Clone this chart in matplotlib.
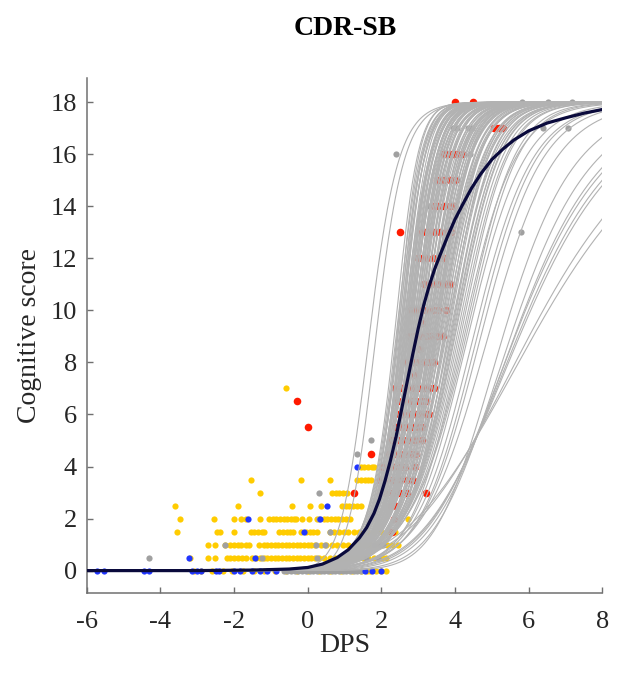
import numpy as np
import matplotlib
matplotlib.use('Agg')
import matplotlib.pyplot as plt

plt.rcParams['font.family'] = ['Liberation Serif', 'DejaVu Serif']
plt.rcParams['axes.unicode_minus'] = False

# ---- scatter data (DPS, score) ----------------------------------------------
yellow_pts = [
    # score 0
    (-3.1, 0), (-2.9, 0), (-2.6, 0), (-2.3, 0), (-2.05, 0), (-1.75, 0), (-1.45, 0),
    (-1.2, 0), (-0.9, 0), (-0.6, 0), (-0.3, 0), (0.0, 0), (0.3, 0), (0.6, 0),
    (0.9, 0), (1.2, 0), (1.45, 0), (1.6, 0), (1.7, 0), (1.85, 0), (2.0, 0), (2.13, 0),
    # score 0.5
    (-3.19, .5), (-2.71, .5), (-2.51, .5), (-2.2, .5), (-2.1, .5), (-2.0, .5), (-1.9, .5),
    (-1.78, .5), (-1.68, .5), (-1.5, .5), (-1.4, .5), (-1.3, .5), (-1.2, .5), (-1.1, .5),
    (-1.0, .5), (-0.9, .5), (-0.8, .5), (-0.7, .5), (-0.6, .5), (-0.5, .5), (-0.4, .5),
    (-0.3, .5), (-0.2, .5), (-0.1, .5), (0.0, .5), (0.1, .5), (0.2, .5), (0.3, .5),
    (0.45, .5), (0.6, .5), (0.75, .5), (0.9, .5), (1.05, .5), (1.2, .5), (1.35, .5),
    (1.5, .5), (1.65, .5), (1.8, .5), (1.95, .5), (2.05, .5), (2.13, .5),
    # score 1
    (-2.71, 1), (-2.51, 1), (-2.24, 1), (-2.1, 1), (-2.0, 1), (-1.9, 1), (-1.8, 1),
    (-1.68, 1), (-1.59, 1), (-1.32, 1), (-1.2, 1), (-1.1, 1), (-1.0, 1), (-0.9, 1),
    (-0.8, 1), (-0.7, 1), (-0.6, 1), (-0.5, 1), (-0.4, 1), (-0.3, 1), (-0.2, 1),
    (-0.1, 1), (0.0, 1), (0.1, 1), (0.2, 1), (0.35, 1), (0.5, 1), (0.65, 1), (0.8, 1),
    (0.95, 1), (1.1, 1), (1.25, 1), (1.4, 1), (1.55, 1), (1.7, 1), (1.85, 1), (2.0, 1),
    (2.15, 1), (2.3, 1), (2.45, 1),
    # score 1.5
    (-3.55, 1.5), (-2.46, 1.5), (-2.37, 1.5), (-2.0, 1.5), (-1.55, 1.5), (-1.45, 1.5),
    (-1.35, 1.5), (-1.25, 1.5), (-1.18, 1.5), (-0.77, 1.5), (-0.67, 1.5), (-0.57, 1.5),
    (-0.47, 1.5), (-0.4, 1.5), (-0.17, 1.5), (-0.05, 1.5), (0.05, 1.5), (0.15, 1.5),
    (0.24, 1.5), (0.61, 1.5), (0.72, 1.5), (0.85, 1.5), (0.98, 1.5), (1.1, 1.5),
    (1.25, 1.5), (1.4, 1.5), (1.6, 1.5), (1.8, 1.5), (2.0, 1.5), (2.2, 1.5), (2.36, 1.5),
    # score 2
    (-3.47, 2), (-2.54, 2), (-2.0, 2), (-1.8, 2), (-1.68, 2), (-1.3, 2), (-1.04, 2),
    (-0.95, 2), (-0.85, 2), (-0.75, 2), (-0.65, 2), (-0.55, 2), (-0.45, 2), (-0.38, 2),
    (-0.31, 2), (-0.15, 2), (0.03, 2), (0.24, 2), (0.43, 2), (0.53, 2), (0.63, 2),
    (0.73, 2), (0.83, 2), (0.93, 2), (1.03, 2), (1.16, 2), (2.72, 2),
    # score 2.5 and above
    (-3.61, 2.5), (-1.89, 2.5), (-0.43, 2.5), (0.06, 2.5), (0.35, 2.5), (0.93, 2.5),
    (1.03, 2.5), (1.13, 2.5), (1.23, 2.5), (1.33, 2.5), (1.44, 2.5),
    (-1.29, 3), (0.66, 3), (0.76, 3), (0.86, 3), (0.97, 3), (1.07, 3),
    (-1.55, 3.5), (-0.17, 3.5), (0.61, 3.5), (1.35, 3.5), (1.45, 3.5), (1.55, 3.5),
    (1.65, 3.5), (1.71, 3.5),
    (1.44, 4), (1.54, 4), (1.64, 4), (1.74, 4), (1.8, 4),
    (-0.58, 7),
]

gray_pts = [
    (-0.65, 0), (-0.55, 0), (-0.45, 0), (-0.35, 0), (-0.25, 0), (-0.15, 0), (-0.05, 0),
    (0.05, 0), (0.15, 0), (0.25, 0), (0.35, 0), (0.45, 0), (0.55, 0), (0.65, 0),
    (0.75, 0), (0.85, 0), (0.95, 0), (1.05, 0), (1.15, 0), (1.25, 0), (1.35, 0), (1.45, 0),
    (-4.32, .5), (-1.25, .5), (0.25, .5), (1.57, .5), (1.9, .5),
    (-2.24, 1), (0.22, 1), (0.48, 1), (1.8, 1), (1.95, 1), (2.05, 1),
    (0.61, 1.5), (0.3, 2), (0.31, 3), (1.35, 4.5), (1.73, 5),
    (2.4, 16), (5.8, 13), (4.25, 16), (4.4, 16), (3.6, 15), (4.05, 15),
    (3.3, 14), (3.5, 14), (3.7, 14), (3.4, 13),
    (3.95, 17), (4.05, 17), (4.35, 17), (4.45, 17), (6.39, 17), (7.07, 17),
    (5.81, 18), (6.53, 18), (7.17, 18),
]

blue_pts = [
    (-5.72, 0), (-5.54, 0), (-4.44, 0), (-4.3, 0), (-3.15, 0), (-3.0, 0), (-2.9, 0),
    (-2.5, 0), (-2.4, 0), (-2.0, 0), (-1.85, 0), (-1.5, 0), (-1.3, 0), (-1.1, 0),
    (-0.85, 0), (1.55, 0), (1.75, 0), (2.0, 0),
    (-3.23, .5), (-1.43, .5), (-0.1, 1.5), (-1.61, 2), (0.34, 2), (0.52, 2.5), (1.33, 4),
]

red_pts = [
    (4.0, 18), (4.5, 18),
    (5.05, 17), (5.12, 17), (5.2, 17), (5.3, 17),
    (3.66, 16), (3.75, 16), (3.85, 16), (3.95, 16), (4.05, 16), (4.19, 16),
    (3.5, 15), (3.6, 15), (3.7, 15), (3.85, 15), (4.0, 15),
    (3.44, 14), (3.55, 14), (3.7, 14), (3.85, 14), (3.98, 14),
    (2.5, 13), (3.1, 13), (3.2, 13), (3.3, 13), (3.45, 13), (3.6, 13), (3.75, 13), (3.9, 13),
    (3.0, 12), (3.1, 12), (3.25, 12), (3.4, 12), (3.55, 12), (3.7, 12),
    (3.17, 11), (3.3, 11), (3.45, 11), (3.6, 11), (3.75, 11), (3.87, 11),
    (2.8, 10), (2.95, 10), (3.1, 10), (3.25, 10), (3.4, 10), (3.55, 10), (3.76, 10),
    (3.1, 9.5),
    (2.74, 9), (2.9, 9), (3.05, 9), (3.2, 9), (3.35, 9), (3.5, 9), (3.66, 9),
    (3.05, 8.5),
    (2.69, 8), (2.85, 8), (3.0, 8), (3.15, 8), (3.3, 8), (3.44, 8),
    (2.9, 7.5),
    (2.37, 7), (2.55, 7), (2.7, 7), (2.85, 7), (3.0, 7), (3.15, 7), (3.3, 7), (3.44, 7),
    (2.45, 6.5), (2.6, 6.5), (2.8, 6.5), (2.95, 6.5), (3.1, 6.5), (3.2, 6.5),
    (2.48, 6), (2.6, 6), (2.75, 6), (2.9, 6), (3.05, 6), (3.2, 6), (3.28, 6),
    (2.4, 5.5), (2.55, 5.5), (2.7, 5.5), (2.85, 5.5), (3.0, 5.5), (3.1, 5.5),
    (2.3, 5), (2.45, 5), (2.6, 5), (2.75, 5), (2.9, 5), (3.1, 5),
    (1.73, 4.5), (2.2, 4.5), (2.35, 4.5), (2.5, 4.5), (2.65, 4.5), (2.8, 4.5), (2.95, 4.5),
    (2.05, 4), (2.2, 4), (2.35, 4), (2.5, 4), (2.65, 4), (2.9, 4),
    (1.95, 3.5), (2.1, 3.5), (2.3, 3.5), (2.5, 3.5), (2.7, 3.5), (2.85, 3.5),
    (1.25, 3), (1.95, 3), (2.1, 3), (2.3, 3), (2.5, 3), (2.7, 3), (3.2, 3),
    (2.25, 2.5), (2.4, 2.5), (2.35, 2), (2.3, 1.5),
    (-0.3, 6.5), (0.0, 5.5),
]

# ---- individual sigmoid fits: DPS where score = 9, steepness ----------------
# early, isolated trajectories
early_x9 = [1.67, 1.85]
early_k = [2.3, 2.4]
# main bundle
main_x9 = [2.35, 2.4, 2.42, 2.45, 2.48, 2.5, 2.52, 2.55, 2.58, 2.6,
           2.62, 2.65, 2.68, 2.7, 2.72, 2.75, 2.78, 2.8, 2.82, 2.85, 2.88, 2.9,
           2.92, 2.95, 2.98, 3.0, 2.64, 2.74, 2.84, 2.94, 2.69, 2.79, 2.56, 2.87,
           2.44, 2.53, 2.61, 2.66, 2.71, 2.77, 2.83, 2.91, 2.97,
           3.02, 3.05, 3.08, 3.1, 3.12, 3.15, 3.18, 3.2, 3.22, 3.25, 3.28, 3.3,
           3.33, 3.36, 3.4, 3.43, 3.46, 3.5, 3.06, 3.16, 3.26, 3.38, 3.48,
           3.13, 3.23, 3.31, 3.44, 3.03, 3.19, 3.35, 3.41, 3.47, 3.52]
main_k = [3.6, 3.4, 3.8, 3.5, 3.2, 3.7, 3.4, 3.6, 3.1, 3.5,
          3.2, 3.0, 3.5, 3.1, 2.9, 3.4, 3.0, 3.2, 2.75, 3.1, 2.9, 3.2,
          2.6, 3.0, 2.75, 3.1, 3.4, 2.75, 3.0, 2.9, 3.1, 3.2, 3.0, 2.6,
          3.3, 3.5, 3.0, 3.3, 2.9, 3.1, 2.8, 3.0, 2.7,
          2.9, 2.6, 3.0, 2.5, 2.75, 2.9, 2.4, 2.6, 2.75, 2.5, 2.25, 2.6,
          2.4, 2.5, 2.25, 2.5, 2.1, 2.4, 2.75, 2.5, 2.4, 2.25, 2.5,
          2.75, 2.4, 2.5, 2.3, 2.6, 2.45, 2.3, 2.2, 2.4, 2.1]
# later part of the bundle
late_x9 = [3.53, 3.56, 3.6, 3.64, 3.68, 3.72, 3.76, 3.8, 3.85, 3.9, 3.95, 4.0,
           4.05, 4.1, 3.58, 3.7, 3.82, 3.62, 3.74, 3.88, 3.98,
           4.15, 4.25, 3.92, 4.3]
late_k = [2.2, 2.05, 2.3, 1.95, 2.2, 2.05, 1.95, 2.1, 1.8, 1.95, 1.85, 1.8,
          1.75, 1.7, 2.05, 1.95, 2.0, 2.1, 1.85, 1.95, 1.8,
          1.7, 1.6, 1.8, 1.55]
slow_x9 = [4.2, 4.35, 4.5, 4.7, 4.6, 4.9]
slow_k = [1.35, 1.25, 1.2, 1.15, 1.2, 1.05]
# shallow trajectories that stay below the ceiling
shallow_x9 = [5.30, 5.51, 5.61, 5.63, 5.70, 5.75, 6.01, 6.12]
shallow_k = [0.85, 0.75, 0.68, 0.65, 0.62, 0.6, 0.48, 0.45]

group_skew = [1.5, 0.6, 0.7, 1.2, 3.0]
score_max = 18

# ---- group-level trajectory --------------------------------------------------
mean_x = [-6, -3, -1.5, -0.5, 0, 0.4, 0.8, 1.1, 1.4, 1.6, 1.8, 1.95, 2.1, 2.25,
          2.4, 2.55, 2.7, 2.85, 3.0, 3.15, 3.3, 3.45, 3.6, 3.8, 4.0, 4.2, 4.45,
          4.7, 5.0, 5.3, 5.6, 6.0, 6.5, 7.0, 7.5, 8.0]
mean_y = [0, 0, 0.02, 0.06, 0.12, 0.25, 0.5, 0.8, 1.25, 1.65, 2.2, 2.75, 3.45,
          4.25, 5.15, 6.2, 7.25, 8.3, 9.3, 10.2, 10.95, 11.6, 12.15, 12.85, 13.5,
          14.05, 14.7, 15.25, 15.8, 16.2, 16.55, 16.9, 17.2, 17.4, 17.58, 17.72]


def sigmoid(x, x9, k, p):
    s9 = 0.5 ** (1.0 / p)
    m = x9 - np.log(s9 / (1 - s9)) / k
    return score_max * (1.0 / (1.0 + np.exp(-k * (x - m)))) ** p


fig = plt.figure(figsize=(6.19, 6.75), dpi=100)
ax = fig.add_axes([0.1401, 0.1219, 0.8330, 0.7621])

def scat(pts, color, size):
    ax.scatter([p[0] for p in pts], [p[1] for p in pts], s=size, c=color,
               linewidths=0, zorder=2)

scat(yellow_pts, '#ffcc00', 20)
scat(gray_pts, '#a0a0a0', 20)
scat(blue_pts, '#2035ff', 20)
scat(red_pts, '#ff1a00', 30)

xx = np.linspace(-6, 8, 500)
groups = [(early_x9, early_k), (main_x9, main_k), (late_x9, late_k),
          (slow_x9, slow_k), (shallow_x9, shallow_k)]
for (gx, gk), p in zip(groups, group_skew):
    for x9, k in zip(gx, gk):
        ax.plot(xx, sigmoid(xx, x9, k, p), color='#b2b2b2', lw=0.8, zorder=3)

ax.plot(mean_x, mean_y, color='#0a0a3c', lw=2.3, zorder=4,
        solid_capstyle='round', solid_joinstyle='round')

ax.set_xlim(-6, 8)
ax.set_ylim(-0.85, 18.92)
ax.set_xticks(np.arange(-6, 9, 2))
ax.set_yticks(np.arange(0, 19, 2))
for side in ['top', 'right']:
    ax.spines[side].set_visible(False)
for side in ['left', 'bottom']:
    ax.spines[side].set_color('#707070')
    ax.spines[side].set_linewidth(1.1)
ax.tick_params(direction='in', length=4, width=1.0, color='#707070',
               labelsize=19, labelcolor='#262626')
ax.tick_params(axis='x', pad=13)
ax.tick_params(axis='y', pad=7)

ax.set_xlabel('DPS', fontsize=20, color='#262626', labelpad=0)
ax.set_ylabel('Cognitive score', fontsize=20, color='#262626', labelpad=6)
fig.text(0.557, 0.958, 'CDR-SB', ha='center', va='center', fontsize=20,
         fontweight='bold')

fig.savefig('out.png', dpi=100)
